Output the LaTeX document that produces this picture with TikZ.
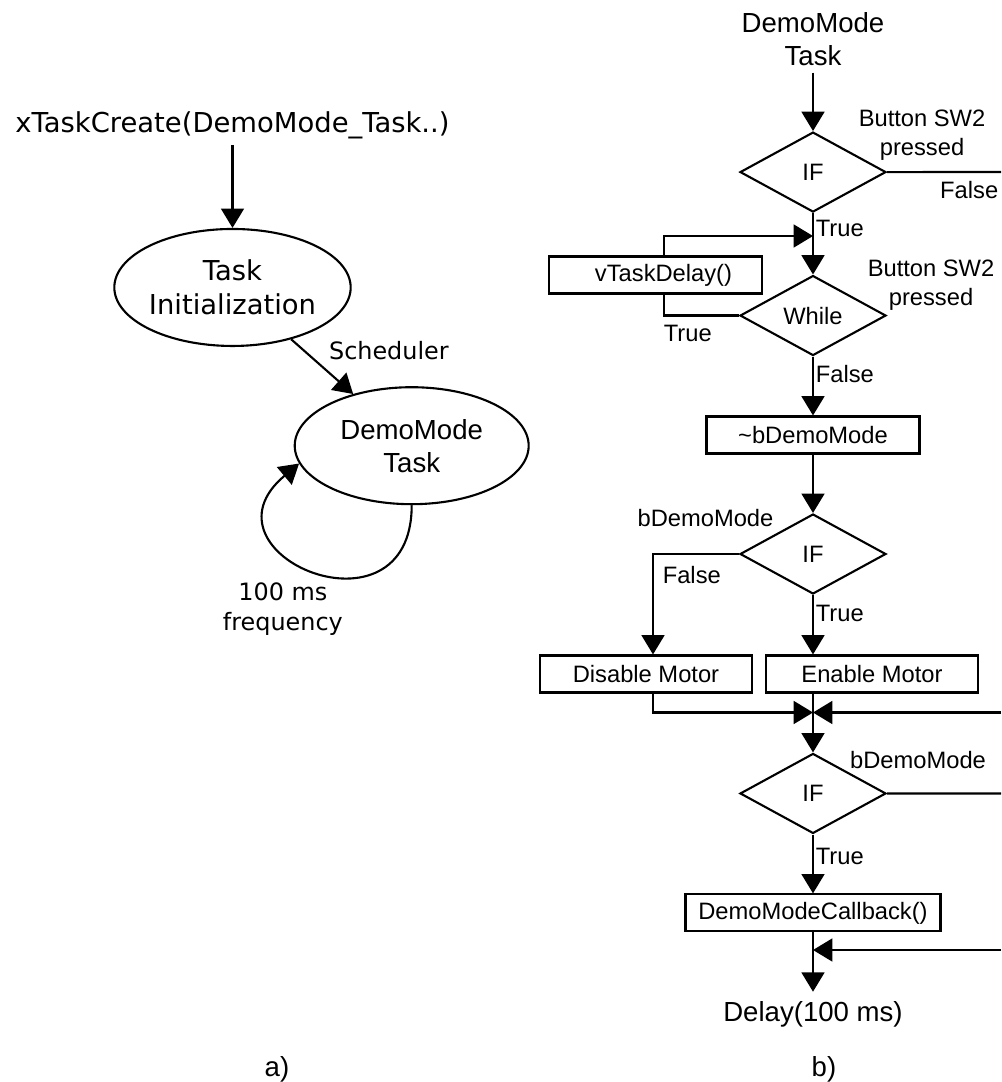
\documentclass[tikz,border=0pt]{standalone}
\usepackage{fontspec}
\setmainfont{Liberation Sans}
\newfontfamily\djvfont{DejaVu Sans}
\usetikzlibrary{shapes.geometric, arrows.meta, positioning}

\begin{document}
\begin{tikzpicture}[x=0.02cm, y=0.02cm, auto, line width=1.2pt,
        >={Triangle[length=11pt, width=13pt]},
        every node/.style={font=\fontsize{13.5}{16.2}\selectfont},
        djv/.style={font=\djvfont\fontsize{15.6}{19.3}\selectfont},
        djvsmall/.style={font=\djvfont\fontsize{13.6}{17}\selectfont},
        bigtext/.style={font=\fontsize{15.7}{18.8}\selectfont},
        lbl/.style={inner sep=1pt},
        task/.style={draw, ellipse, inner sep=0pt, minimum width=4.68cm, minimum height=2.34cm, align=center},
        decision/.style={draw, diamond, aspect=1.83, inner sep=0pt, minimum width=2.92cm, minimum height=1.6cm},
        process/.style={draw, rectangle, inner sep=0pt, minimum width=4.26cm, minimum height=0.74cm}]
    \useasboundingbox (0,0) rectangle (1001,-1082);
    \clip (0,0) rectangle (1001,-1082);

    % a) task view
    \node (xtc) [djv, inner sep=3pt] at (232.5,-125) {xTaskCreate(DemoMode\_Task..)};
    \node (init) [task, djv, below of=xtc, node distance=3.25cm] {Task\\Initialization};
    \node (demo) [task, bigtext] at (411.7,-445.7) {DemoMode\\Task};

    \draw[->] (xtc) -- (init);
    \draw[->] (init) -- node[djvsmall] {Scheduler} (demo);
    \draw[->] (demo.south) to[out=-90, in=-140, looseness=3] node[djvsmall, pos=0.5, below, xshift=-0.64cm, yshift=-0.1cm, align=center] {100 ms\\frequency} (demo.189);

    % b) flow chart
    \node (dmtask) [bigtext, align=center, inner sep=3pt] at (813,-39.6) {DemoMode\\Task};
    \node (ifa) [decision, below of=dmtask, node distance=2.65cm] {IF};
    \node (whl) [decision, below of=ifa, node distance=2.87cm] {While};
    \node (dly) [process] at (655.5,-275) {\hspace*{0.32cm}vTaskDelay()};
    \node (tgl) [process, below of=whl, node distance=2.39cm] {\textasciitilde bDemoMode};
    \node (ifb) [decision, below of=tgl, node distance=2.38cm] {IF};
    \node (dis) [process, minimum width=4.24cm] at (646,-674) {Disable Motor};
    \node (ena) [process, minimum width=4.24cm] at (872,-674) {Enable Motor};
    \node (ifc) [decision, below of=ifb, node distance=4.79cm] {IF};
    \node (cbk) [process, minimum width=5.1cm, below of=ifc, node distance=2.39cm] {DemoModeCallback()};
    \node (delay) [bigtext, inner sep=5pt, below of=cbk, node distance=2.03cm] {Delay(100 ms)};

    \node (swa) [align=center] at ([xshift=0.7cm, yshift=0.74cm]ifa.east) {Button SW2\\pressed};
    \node (swb) [align=center] at ([xshift=0.88cm, yshift=0.61cm]whl.east) {Button SW2\\pressed};
    \node (bdb) at ([xshift=-0.67cm, yshift=0.72cm]ifb.west) {bDemoMode};
    \node (bdc) at ([xshift=0.62cm, yshift=0.67cm]ifc.east) {bDemoMode};

    \coordinate (lp) at (813,-236);
    \coordinate (jn) at (813,-712.5);
    \coordinate (mg) at (813,-950);
    \coordinate (ea) at (1001,-172);
    \coordinate (eb) at (1001,-712.5);
    \coordinate (ec) at (1001,-793.5);
    \coordinate (ed) at (1001,-950);

    \draw[->] (dmtask) -- (ifa);
    \draw[->] (ifa) -- node[lbl, pos=0.25, right] {True} (whl);
    \draw (ifa.east) -- node[lbl, pos=1, anchor=north east, yshift=-0.12cm] {False} (ea);
    \draw (whl.west) -| node[lbl, pos=0.5, anchor=north west, xshift=-0.06cm, yshift=-0.14cm] {True} ([xshift=0.17cm]dly.south);
    \draw[->] ([xshift=0.17cm]dly.north) |- (lp);
    \draw[->] (whl) -- node[lbl, pos=0.3, right] {False} (tgl);
    \draw[->] (tgl) -- (ifb);
    \draw[->] (ifb.west) -| node[lbl, pos=0.5, anchor=north west, xshift=0.14cm, yshift=-0.18cm] {False} ([xshift=0.14cm]dis.north);
    \draw[->] (ifb.south) -- node[lbl, pos=0.31, right] {True} (ifb.south |- ena.north);
    \draw[->] ([xshift=0.14cm]dis.south) |- (jn);
    \draw[->] (eb) -- (jn);
    \draw[->] (jn |- ena.south) -- (ifc.north);
    \draw (ifc.east) -- (ec);
    \draw[->] (ifc) -- node[lbl, pos=0.37, right] {True} (cbk);
    \draw[->] (cbk) -- (delay);
    \draw[->] (ed) -- (mg);

    \node (capa) [bigtext] at (277,-1069) {a)};
    \node (capb) [bigtext] at (824,-1069) {b)};
\end{tikzpicture}
\end{document}
